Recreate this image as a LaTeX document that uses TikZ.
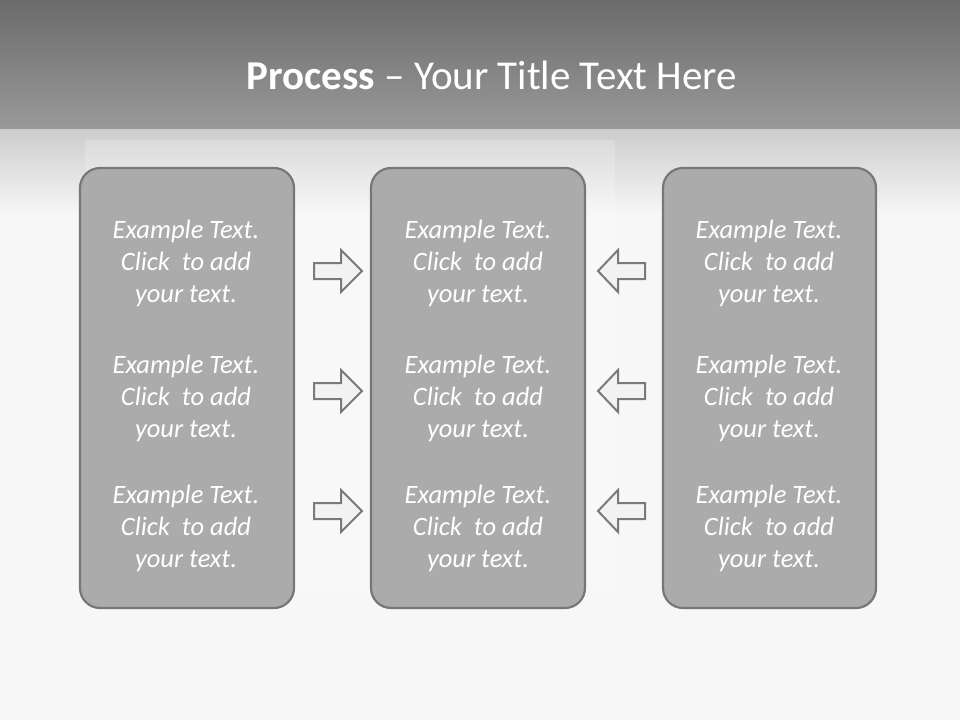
\documentclass[tikz,border=0pt]{standalone}
\usepackage{fontspec}
\setmainfont{Carlito}
\definecolor{boxfill}{HTML}{ABABAB}
\definecolor{boxline}{HTML}{777777}
\definecolor{arrline}{HTML}{7A7A7A}
\definecolor{bg}{HTML}{F7F7F7}
\tikzset{
  x=1pt, y=-1pt,
  panel/.style={draw=boxline, line width=2.2pt, fill=boxfill, rounded corners=20pt},
  bodytxt/.style={text=white, font=\fontsize{26.5}{32}\selectfont\itshape, align=center},
  arr/.style={draw=arrline, line width=2pt, fill=white!95!black, line join=miter},
}
\newcommand{\boxtext}[3]{%
  \node[bodytxt] (#1) at (#2,#3) {Example Text.\\Click\ \ to add\\your text.};
}
\begin{document}
\begin{tikzpicture}
\useasboundingbox (0,0) rectangle (960,720);
\fill[bg] (0,0) rectangle (960,720);
% lower gradient
\shade[top color=black!20, bottom color=bg] (0,128) rectangle (960,215);
% faint panel behind
\fill[white, opacity=0.2] (85,140) rectangle (615,590);
% top band
\shade[top color=black!58, bottom color=black!40] (0,0) rectangle (960,128);
\node[text=white, font=\fontsize{41}{44}\selectfont] (title) at (492,75) {\textbf{Process} – Your Title Text Here};
% panels
\draw[panel] (80,168) rectangle (294,608);
\draw[panel] (371,168) rectangle (585,608);
\draw[panel] (663,168) rectangle (876,608);
% texts
\foreach \cx/\nm in {186/a, 478/b, 769/c}{
  \foreach \cy/\r in {263/1, 398/2, 528/3}{
    \boxtext{t\nm\r}{\cx}{\cy}
  }
}
% arrows
\foreach \cy in {271, 391, 511}{
  \draw[arr] (314,\cy-8) -- (341,\cy-8) -- (341,\cy-21) -- (362,\cy) -- (341,\cy+21) -- (341,\cy+8) -- (314,\cy+8) -- cycle;
  \draw[arr] (645,\cy-8) -- (618,\cy-8) -- (618,\cy-21) -- (598,\cy) -- (618,\cy+21) -- (618,\cy+8) -- (645,\cy+8) -- cycle;
}
\end{tikzpicture}
\end{document}
